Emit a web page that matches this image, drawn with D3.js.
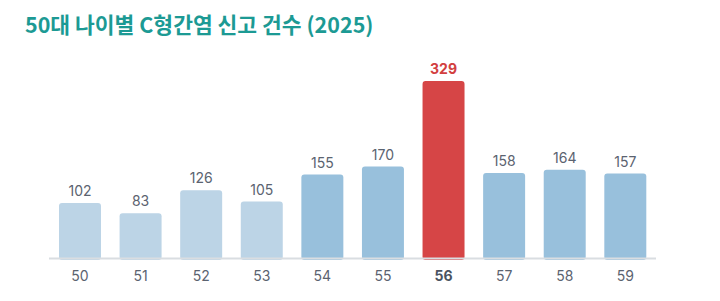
<!DOCTYPE html>
<html>
<head>
<meta charset="utf-8">
<script src="https://cdn.jsdelivr.net/npm/d3@7"></script>
<style>
  body { margin: 0; background: #fff; }
  svg { display: block; }
</style>
</head>
<body>
<svg id="chart" width="720" height="301" viewBox="0 0 720 301"></svg>
<script>
// data
const ages = ["50", "51", "52", "53", "54", "55", "56", "57", "58", "59"];
const counts = [102, 83, 126, 105, 155, 170, 329, 158, 164, 157];
const tone = ["light", "light", "light", "light", "mid", "mid", "peak", "mid", "mid", "mid"];
const title = "50대 나이별 C형간염 신고 건수 (2025)";

const svg = d3.select("#chart");
const width = parseInt(svg.attr("viewBox").split(' ')[2]);
const height = parseInt(svg.attr("viewBox").split(' ')[3]);

const colors = { light: "#bcd4e6", mid: "#98c0dc", peak: "#d64546" };

// title
svg.append("text")
    .attr("x", 25)
    .attr("y", 33)
    .attr("fill", "#1c9a94")
    .attr("font-family", "'Noto Sans CJK KR', 'Noto Sans', sans-serif")
    .attr("font-weight", 700)
    .attr("font-size", 21.5)
    .text(title);

const baseY = 258;

// scales
const x = d3.scaleBand()
    .domain(ages)
    .range([49.7, 655.6])
    .paddingInner(0.307)
    .paddingOuter(0.1535);

const y = d3.scaleLinear()
    .domain([0, 329])
    .range([baseY, 81]);

const rows = ages.map((a, i) => ({ age: a, value: counts[i], tone: tone[i] }));

// bars
svg.append("g")
    .selectAll("rect")
    .data(rows)
    .enter()
    .append("rect")
    .attr("x", d => x(d.age))
    .attr("y", d => y(d.value))
    .attr("width", x.bandwidth())
    .attr("height", d => baseY - y(d.value) + 2)
    .attr("rx", 3)
    .attr("fill", d => colors[d.tone]);

// baseline
svg.append("line")
    .attr("x1", 49)
    .attr("x2", 656)
    .attr("y1", baseY + 0.5)
    .attr("y2", baseY + 0.5)
    .attr("stroke", "#d9dde1")
    .attr("stroke-width", 2);

// value labels
svg.append("g")
    .selectAll("text")
    .data(rows)
    .enter()
    .append("text")
    .attr("x", d => x(d.age) + x.bandwidth() / 2)
    .attr("y", d => y(d.value) - 7)
    .attr("text-anchor", "middle")
    .attr("font-family", "Inter, 'Noto Sans', sans-serif")
    .attr("font-size", 14)
    .attr("font-weight", d => d.tone === "peak" ? 700 : 400)
    .attr("fill", d => d.tone === "peak" ? "#d2403f" : "#5b6370")
    .text(d => d.value);

// x axis labels
const xAxis = d3.axisBottom(x).tickSize(0).tickPadding(0);
const ax = svg.append("g")
    .attr("transform", `translate(0, ${baseY})`)
    .call(xAxis);
ax.select(".domain").remove();
ax.selectAll("text")
    .attr("y", 23)
    .attr("dy", 0)
    .attr("font-family", "Inter, 'Noto Sans', sans-serif")
    .attr("font-size", 14)
    .attr("font-weight", d => d === "56" ? 700 : 400)
    .attr("fill", d => d === "56" ? "#4b5361" : "#5b6370");
</script>
</body>
</html>
